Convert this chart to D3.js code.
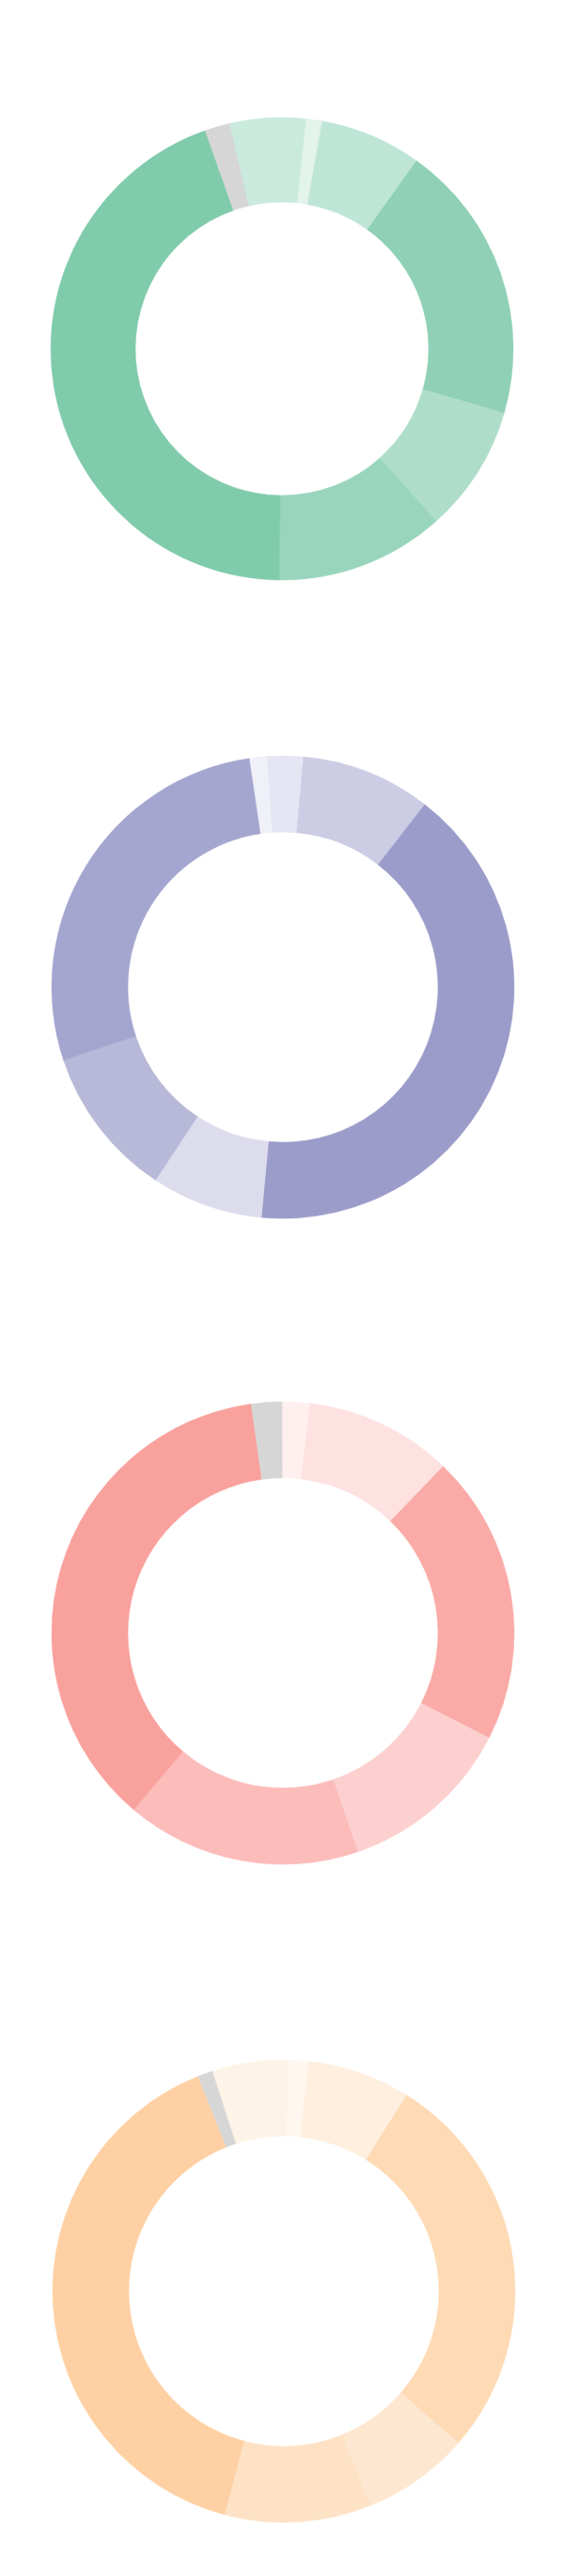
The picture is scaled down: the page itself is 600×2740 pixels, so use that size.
<!DOCTYPE html>
<html>
<head>
<meta charset="utf-8">
<script src="https://cdn.jsdelivr.net/npm/d3@7"></script>
<style>
  body { margin: 0; background: #fff; }
</style>
</head>
<body>
<svg id="chart"></svg>
<script>
// same category order in every ring: "no data" first, then the seven groups
let categories = ['No data', 'A', 'B', 'C', 'D', 'E', 'F', 'G']

// shares in percent
let greenValues  = [1.8, 5.3, 1.1, 7.1, 19.6, 8.9, 11.8, 44.4]
let purpleValues = [0, 1.25, 2.5, 9.1, 41.0, 7.8, 10.6, 27.8]
let redValues    = [2.2, 0, 1.9, 10.3, 20.3, 12.25, 16.4, 36.6]
let orangeValues = [1.1, 5.3, 1.4, 7.2, 27.5, 7.5, 10.25, 39.8]

// palettes, one colour per category
let greenColors  = ['#d6d6d6', '#c9eadd', '#e2f4ec', '#bfe5d6', '#8fd0b6', '#aeddc9', '#99d5bd', '#80cbac']
let purpleColors = ['#d6d6d6', '#f0f1f8', '#e5e5f3', '#cccce5', '#9b9cc9', '#dcdced', '#b8b9d8', '#a4a6d0']
let redColors    = ['#d6d6d6', '#fff6f5', '#fff0ef', '#fee1e1', '#faaba7', '#fcd0ce', '#fbbcba', '#f9a19c']
let orangeColors = ['#d6d6d6', '#fef3e7', '#fff7f0', '#feefdf', '#fedab5', '#fee7d0', '#fee2c6', '#fed0a3']

let svgWidth = 600,
    svgHeight = 2740,
    outerRadius = 246

let svg = d3.select('#chart')
    .attr('width', svgWidth)
    .attr('height', svgHeight)

svg.append('rect')
    .attr('width', svgWidth)
    .attr('height', svgHeight)
    .attr('fill', '#fff')

// layout of each ring: centre, hole size, rotation of the first slice (degrees)
let rings = [
    {values: greenValues,  colors: greenColors,  cx: 300, cy: 371,  inner: 156, rotate: -19.5},
    {values: purpleValues, colors: purpleColors, cx: 301, cy: 1050, inner: 165, rotate: -8.4},
    {values: redValues,    colors: redColors,    cx: 301, cy: 1737, inner: 165, rotate: -8},
    {values: orangeValues, colors: orangeColors, cx: 302, cy: 2437, inner: 165, rotate: -21.9}
]

rings.forEach(ring => {
    let start = ring.rotate * Math.PI / 180

    let pie = d3.pie()
        .sort(null)
        .value(d => d.value)
        .startAngle(start)
        .endAngle(start + 2 * Math.PI)

    let arc = d3.arc()
        .innerRadius(ring.inner)
        .outerRadius(outerRadius)

    let color = d3.scaleOrdinal()
        .domain(categories)
        .range(ring.colors)

    let rows = categories.map((c, i) => ({category: c, value: ring.values[i]}))

    let g = svg.append('g')
        .attr('transform', `translate(${ring.cx}, ${ring.cy})`)

    g.selectAll('path')
        .data(pie(rows).filter(d => d.data.value > 0))
        .enter()
        .append('path')
        .attr('d', arc)
        .attr('fill', d => color(d.data.category))
        .attr('stroke', d => color(d.data.category))
        .attr('stroke-width', 0.5)
})
</script>
</body>
</html>
